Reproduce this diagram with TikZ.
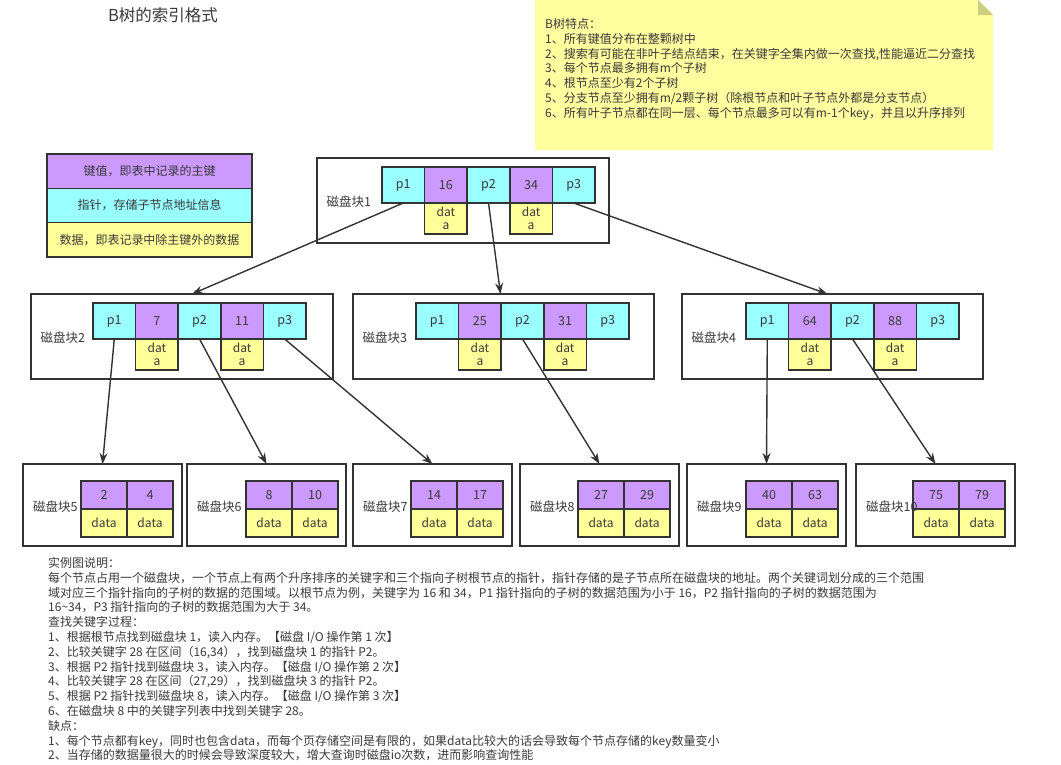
\documentclass[tikz,border=0pt]{standalone}
\usepackage{fontspec}
\setmainfont{Noto Sans CJK SC}
\usetikzlibrary{arrows.meta}
\definecolor{keyC}{HTML}{CC99FF}
\definecolor{ptrC}{HTML}{99FFFF}
\definecolor{datC}{HTML}{FFFF99}
\definecolor{noteC}{HTML}{FFFF9F}
\definecolor{foldC}{HTML}{CDCD7E}
\definecolor{lineC}{HTML}{333333}
\definecolor{txtC}{HTML}{3A3A3A}
\definecolor{titleC}{HTML}{3A3A3A}
\tikzset{
  cellbase/.style={draw=lineC, line width=1.6pt, inner sep=0pt, outer sep=0pt, text=txtC, font=\fontsize{12.5}{13}\selectfont},
  pcell/.style={cellbase, fill=ptrC, minimum width=42.6pt, minimum height=36pt},
  kcell/.style={cellbase, fill=keyC, minimum width=42.6pt, minimum height=36pt},
  dcell/.style={cellbase, fill=datC, minimum width=42.6pt, minimum height=31pt, align=center, font=\fontsize{12}{13}\selectfont},
  lkcell/.style={cellbase, fill=keyC, minimum width=46pt, minimum height=28pt},
  ldcell/.style={cellbase, fill=datC, minimum width=46pt, minimum height=28pt, font=\fontsize{12}{13}\selectfont},
  blk/.style={draw=lineC, line width=1.6pt, fill=white, inner sep=0pt, outer sep=0pt, minimum height=85pt},
  leafblk/.style={draw=lineC, line width=1.6pt, fill=white, inner sep=0pt, outer sep=0pt, minimum width=159pt, minimum height=82pt},
  lbl/.style={anchor=west, inner sep=0pt, text=txtC, font=\fontsize{12.5}{13}\selectfont},
  arr/.style={draw=lineC, line width=1.4pt, -{Stealth[length=11pt,width=8pt]}},
  legbox/.style={draw=lineC, line width=1.6pt, inner sep=0pt, outer sep=0pt, minimum width=205pt, minimum height=34.3pt, text=txtC, font=\fontsize{12}{13}\selectfont},
  txt/.style={anchor=base west, inner sep=0pt, text=txtC, font=\fontsize{12}{15}\selectfont},
}
% #1 name, #2 width, #3 left, #4 top, #5 first cell left, #6 key1, #7 key2, #8 label number
\newcommand{\midblock}[8]{%
  \node[blk, minimum width=#2pt, anchor=north west] (#1) at (#3,#4) {};
  \node[pcell, anchor=north west] (#1p1) at (#5,#4+9) {p1};
  \node[kcell, anchor=west] (#1k1) at (#1p1.east) {#6};
  \node[pcell, anchor=west] (#1p2) at (#1k1.east) {p2};
  \node[kcell, anchor=west] (#1k2) at (#1p2.east) {#7};
  \node[pcell, anchor=west] (#1p3) at (#1k2.east) {p3};
  \node[dcell, anchor=north] (#1d1) at (#1k1.south) {dat\\a};
  \node[dcell, anchor=north] (#1d2) at (#1k2.south) {dat\\a};
  \node[lbl] (#1lbl) at (#3+9.5,#4+43.5) {磁盘块#8};
}
% #1 name, #2 left, #3 top, #4 first cell left, #5 key1, #6 key2, #7 label number
\newcommand{\leafblock}[7]{%
  \node[leafblk, anchor=north west] (#1) at (#2,#3) {};
  \node[lkcell, anchor=north west] (#1k1) at (#4,#3+17) {#5};
  \node[lkcell, anchor=west] (#1k2) at (#1k1.east) {#6};
  \node[ldcell, anchor=north] (#1d1) at (#1k1.south) {data};
  \node[ldcell, anchor=north] (#1d2) at (#1k2.south) {data};
  \node[lbl] (#1lbl) at (#2+10,#3+43) {磁盘块#7};
}
\begin{document}
\begin{tikzpicture}[x=1pt,y=-1pt]
\useasboundingbox (0,0) rectangle (1061,764);
\fill[white] (0,0) rectangle (1061,764);

% title
\node[text=titleC, font=\fontsize{16.5}{18}\selectfont, inner sep=0pt] (title) at (163,15) {B树的索引格式};

% note
\fill[noteC] (535,0) -- (978,0) -- (993,15) -- (993,150) -- (535,150) -- cycle;
\fill[foldC] (978,0) -- (993,15) -- (978,15) -- cycle;
\node[txt] (n0) at (545,28.5) {B树特点：};
\node[txt] (n1) at (545,43.3) {1、所有键值分布在整颗树中};
\node[txt] (n2) at (545,58.1) {2、搜索有可能在非叶子结点结束，在关键字全集内做一次查找,性能逼近二分查找};
\node[txt] (n3) at (545,72.9) {3、每个节点最多拥有m个子树};
\node[txt] (n4) at (545,87.7) {4、根节点至少有2个子树};
\node[txt] (n5) at (545,102.5) {5、分支节点至少拥有m/2颗子树（除根节点和叶子节点外都是分支节点）};
\node[txt] (n6) at (545,117.3) {6、所有叶子节点都在同一层、每个节点最多可以有m-1个key，并且以升序排列};

% legend
\node[legbox, fill=keyC, anchor=north west] (lg1) at (47,154) {键值，即表中记录的主键};
\node[legbox, fill=ptrC, anchor=north] (lg2) at (lg1.south) {指针，存储子节点地址信息};
\node[legbox, fill=datC, anchor=north] (lg3) at (lg2.south) {数据，即表记录中除主键外的数据};

% blocks
\midblock{r}{292}{317}{158}{382}{16}{34}{1}
\midblock{b2}{302}{31}{294}{93}{7}{11}{2}
\midblock{b3}{301}{353}{294}{416}{25}{31}{3}
\midblock{b4}{301}{682}{294}{746}{64}{88}{4}

\leafblock{b5}{23}{464}{81}{2}{4}{5}
\leafblock{b6}{187}{464}{246}{8}{10}{6}
\leafblock{b7}{353}{464}{411}{14}{17}{7}
\leafblock{b8}{520}{464}{578}{27}{29}{8}
\leafblock{b9}{687}{464}{746}{40}{63}{9}
\leafblock{b10}{856}{464}{913}{75}{79}{10}

% connectors
\draw[arr] (rp1.south) -- ([xshift=10pt]b2.north);
\draw[arr] (rp2.south) -- ([xshift=-3pt]b3.north);
\draw[arr] (rp3.south) -- ([xshift=-5pt]b4.north);
\draw[arr] (b2p1.south) -- (b5.north);
\draw[arr] (b2p2.south) -- (b6.north);
\draw[arr] (b2p3.south) -- (b7.north);
\draw[arr] (b3p2.south) -- (b8.north);
\draw[arr] (b4p1.south) -- (b9.north);
\draw[arr] (b4p2.south) -- (b10.north);

% explanation text
\node[txt] (t1) at (48,567.5) {实例图说明：};
\node[txt] (t2) at (48,582.3) {每个节点占用一个磁盘块，一个节点上有两个升序排序的关键字和三个指向子树根节点的指针，指针存储的是子节点所在磁盘块的地址。两个关键词划分成的三个范围};
\node[txt] (t3) at (48,597.1) {域对应三个指针指向的子树的数据的范围域。以根节点为例，关键字为 16 和 34，P1 指针指向的子树的数据范围为小于 16，P2 指针指向的子树的数据范围为};
\node[txt] (t4) at (48,611.9) {16\textasciitilde34，P3 指针指向的子树的数据范围为大于 34。};
\node[txt] (t5) at (48,626.7) {查找关键字过程：};
\node[txt] (t6) at (48,641.5) {1、根据根节点找到磁盘块 1，读入内存。【磁盘 I/O 操作第 1 次】};
\node[txt] (t7) at (48,656.3) {2、比较关键字 28 在区间（16,34），找到磁盘块 1 的指针 P2。};
\node[txt] (t8) at (48,671.1) {3、根据 P2 指针找到磁盘块 3，读入内存。【磁盘 I/O 操作第 2 次】};
\node[txt] (t9) at (48,685.9) {4、比较关键字 28 在区间（27,29），找到磁盘块 3 的指针 P2。};
\node[txt] (t10) at (48,700.7) {5、根据 P2 指针找到磁盘块 8，读入内存。【磁盘 I/O 操作第 3 次】};
\node[txt] (t11) at (48,715.5) {6、在磁盘块 8 中的关键字列表中找到关键字 28。};
\node[txt] (t12) at (48,730.3) {缺点：};
\node[txt] (t13) at (48,745.1) {1、每个节点都有key，同时也包含data，而每个页存储空间是有限的，如果data比较大的话会导致每个节点存储的key数量变小};
\node[txt] (t14) at (48,759.9) {2、当存储的数据量很大的时候会导致深度较大，增大查询时磁盘io次数，进而影响查询性能};
\end{tikzpicture}
\end{document}
